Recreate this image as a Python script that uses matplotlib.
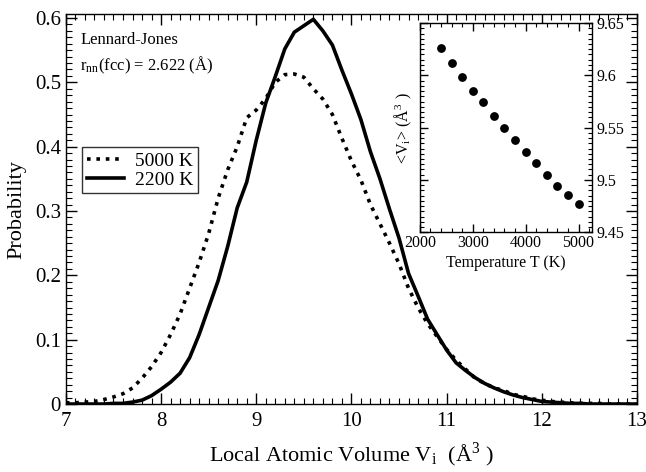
import numpy as np
import matplotlib
matplotlib.use('Agg')
import matplotlib.pyplot as plt
from matplotlib.ticker import MultipleLocator, FuncFormatter

# --------------------------
# data
# --------------------------
vol = np.round(np.arange(7.0, 13.0001, 0.1), 2)

p_2200 = [0.000, 0.000, 0.000, 0.000, 0.000, 0.001, 0.001, 0.003, 0.006, 0.013,
          0.023, 0.034, 0.048, 0.072, 0.108, 0.150, 0.192, 0.245, 0.305, 0.345,
          0.410, 0.468, 0.509, 0.552, 0.578, 0.588, 0.598, 0.580, 0.558, 0.519,
          0.482, 0.442, 0.392, 0.350, 0.303, 0.258, 0.203, 0.168, 0.132, 0.108,
          0.084, 0.064, 0.052, 0.041, 0.032, 0.025, 0.019, 0.014, 0.010, 0.007,
          0.004, 0.003, 0.002, 0.001, 0.001, 0.000, 0.000, 0.000, 0.000, 0.000,
          0.000]

p_5000 = [0.002, 0.002, 0.003, 0.004, 0.007, 0.011, 0.016, 0.025, 0.040, 0.058,
          0.080, 0.108, 0.140, 0.180, 0.220, 0.265, 0.320, 0.364, 0.400, 0.445,
          0.457, 0.475, 0.500, 0.512, 0.513, 0.508, 0.490, 0.474, 0.450, 0.413,
          0.378, 0.348, 0.310, 0.280, 0.250, 0.218, 0.180, 0.150, 0.125, 0.105,
          0.085, 0.068, 0.054, 0.040, 0.032, 0.025, 0.021, 0.015, 0.012, 0.008,
          0.006, 0.004, 0.003, 0.002, 0.001, 0.001, 0.001, 0.000, 0.000, 0.000,
          0.000]

temp_T = [2400, 2600, 2800, 3000, 3200, 3400, 3600, 3800, 4000, 4200, 4400, 4600, 4800, 5000]
mean_V = [9.626, 9.612, 9.598, 9.585, 9.575, 9.561, 9.550, 9.538, 9.527, 9.516,
          9.505, 9.494, 9.486, 9.477]

# --------------------------
# style
# --------------------------
plt.rcParams['font.family'] = ['Liberation Serif', 'DejaVu Serif']
plt.rcParams['mathtext.fontset'] = 'stix'
plt.rcParams['axes.linewidth'] = 1.0

fig = plt.figure(figsize=(6.46, 4.72), dpi=100)
ax = fig.add_axes([0.102, 0.144, 0.884, 0.826])

ax.plot(vol, p_5000, color='black', linestyle=(0, (1, 1.6)), linewidth=2.6,
        dash_capstyle='butt', label='5000 K')
ax.plot(vol, p_2200, color='black', linestyle='-', linewidth=2.6, label='2200 K')

ax.set_xlim(7, 13)
ax.set_ylim(0, 0.606)
ax.xaxis.set_major_locator(MultipleLocator(1))
ax.xaxis.set_minor_locator(MultipleLocator(0.1))
ax.yaxis.set_major_locator(MultipleLocator(0.1))
ax.yaxis.set_minor_locator(MultipleLocator(0.01))
ax.yaxis.set_major_formatter(FuncFormatter(lambda v, p: '0' if abs(v) < 1e-9 else f'{v:.1f}'))
ax.tick_params(which='both', direction='in', top=True, right=True, labelsize=15)
ax.tick_params(which='major', length=8, width=1)
ax.tick_params(which='minor', length=4, width=0.8)
ax.tick_params(axis='x', pad=6)

ax.set_xlabel('Local Atomic Volume V$_\\mathregular{i}$  (Å$^\\mathregular{3}$ )', fontsize=16, labelpad=7)
ax.set_ylabel('Probability', fontsize=16, labelpad=6)

ax.text(0.025, 0.955, 'Lennard-Jones', transform=ax.transAxes, fontsize=12, va='top')
ax.text(0.025, 0.895, 'r$_\\mathregular{nn}$(fcc) = 2.622 (Å)', transform=ax.transAxes,
        fontsize=12, va='top')

leg = ax.legend(loc='upper left', bbox_to_anchor=(0.028, 0.658), fontsize=14,
                frameon=True, fancybox=False, handlelength=1.9, borderpad=0.25,
                labelspacing=0.05, handletextpad=0.6, borderaxespad=0)
leg.get_frame().set_edgecolor('black')
leg.get_frame().set_linewidth(1.0)

# --------------------------
# inset
# --------------------------
ins = fig.add_axes([0.650, 0.508, 0.266, 0.443])
ins.scatter(temp_T, mean_V, s=28, color='black', zorder=3)
ins.set_xlim(2000, 5250)
ins.set_ylim(9.45, 9.65)
ins.xaxis.set_major_locator(MultipleLocator(1000))
ins.xaxis.set_minor_locator(MultipleLocator(200))
ins.yaxis.set_major_locator(MultipleLocator(0.05))
ins.yaxis.set_minor_locator(MultipleLocator(0.005))
ins.yaxis.set_major_formatter(FuncFormatter(lambda v, p: f'{v:g}'))
ins.yaxis.tick_right()
ins.tick_params(which='both', direction='in', top=True, left=True, right=True,
                labelleft=False, labelright=True, labelsize=11.5)
ins.tick_params(which='major', length=6, width=1)
ins.tick_params(which='minor', length=3, width=0.8)
ins.tick_params(axis='x', pad=2)
ins.set_xlabel('Temperature T (K)', fontsize=11.5, labelpad=3)
ins.yaxis.set_label_position('left')
ins.set_ylabel('<V$_\\mathregular{i}$> (Å$^\\mathregular{3}$ )', fontsize=11.5, labelpad=4)

plt.savefig('out.png', dpi=100)
plt.close()
